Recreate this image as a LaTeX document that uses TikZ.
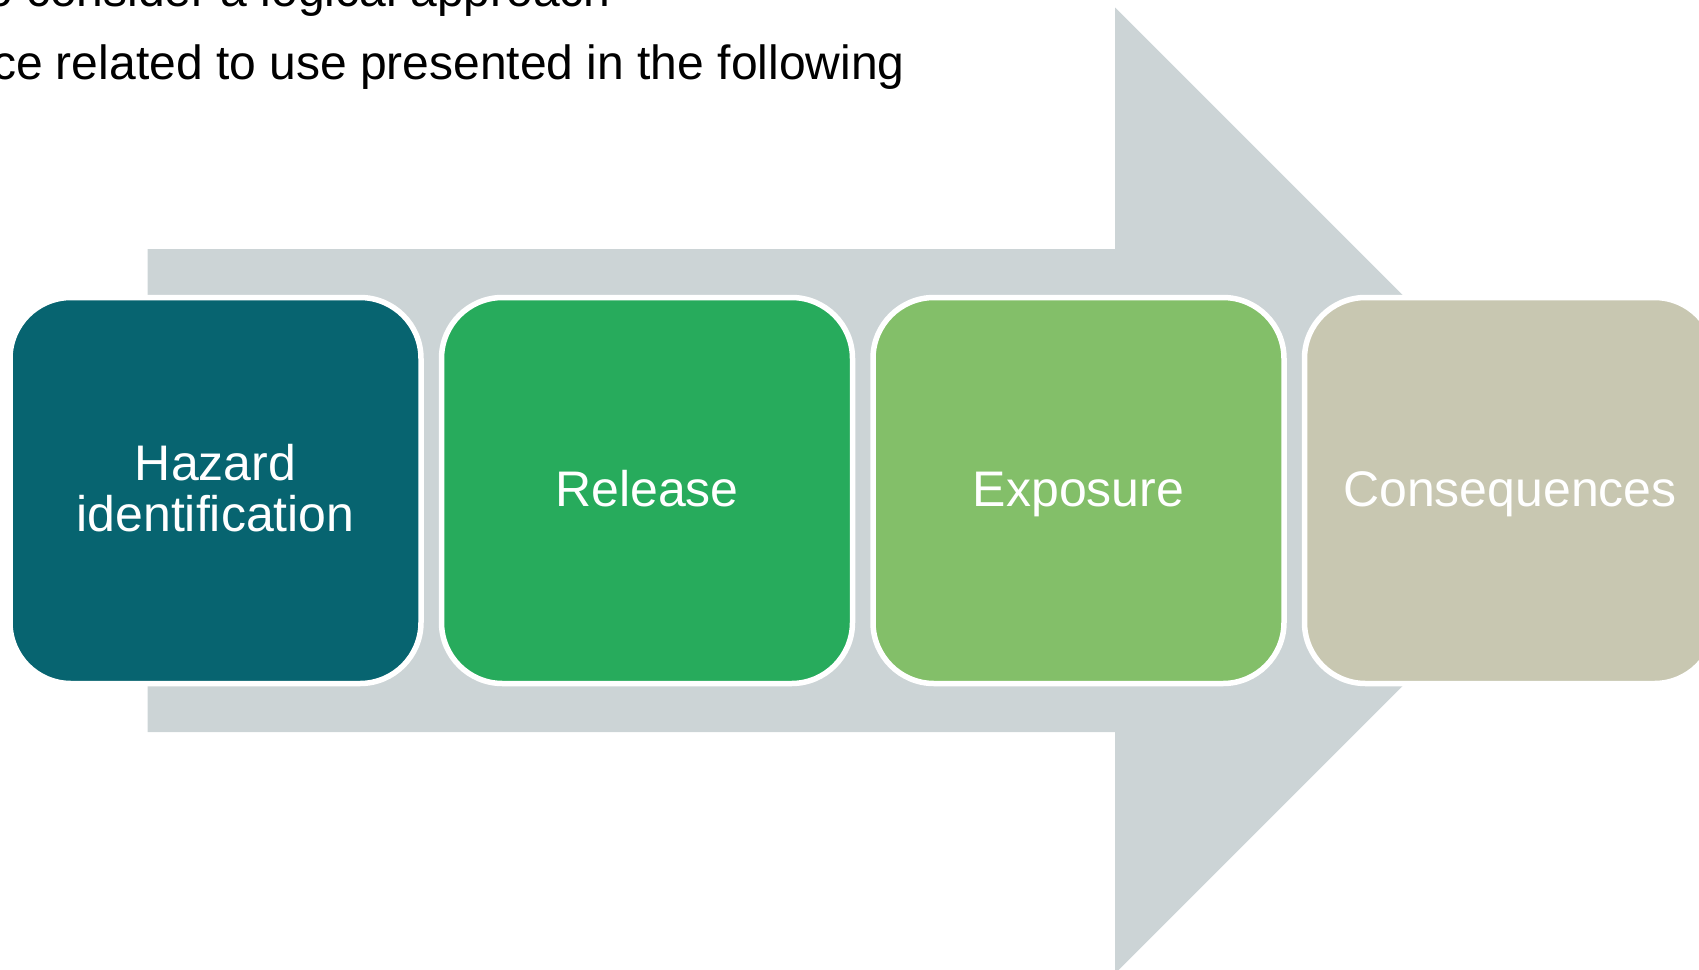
\documentclass[tikz,border=0pt]{standalone}
\usepackage{fontspec}
\setmainfont{Liberation Sans}
\definecolor{arrowgrey}{HTML}{CCD4D6}
\definecolor{cteal}{HTML}{076470}
\definecolor{cgreen}{HTML}{27AB5C}
\definecolor{clight}{HTML}{83BF69}
\definecolor{ckhaki}{HTML}{C8C7B1}
\tikzset{
  stage/.style={draw=white, line width=2.75pt, rounded corners=30.5pt,
    minimum width=205.5pt, minimum height=193pt, inner sep=0pt,
    text=white, align=center, text height=16pt, text depth=0pt,
    font=\fontsize{25}{25.5}\selectfont},
  twoline/.style={text height=41pt},
  bodytext/.style={anchor=base east, inner sep=0pt, text=black,
    font=\fontsize{24}{28}\selectfont}
}
\begin{document}
\begin{tikzpicture}[x=0.5pt,y=-0.5pt]
\useasboundingbox (0,0) rectangle (1699,970);
\clip (0,0) rectangle (1699,970);
% big background arrow
\fill[arrowgrey] (147.7,249) -- (1115,249) -- (1115,7.5) -- (1598,490.5)
  -- (1115,973.5) -- (1115,732) -- (147.7,732) -- cycle;
% top text (partly cut off)
\node[bodytext] (line1) at (611,6) {to consider a logical approach};
\node[bodytext] (line2) at (905,79) {ce related to use presented in the following};
% stages
\node[stage, twoline, fill=cteal]  (hazard) at (215.5,490.5) {Hazard\\identification};
\node[stage, fill=cgreen] (release) at (647,490.5) {Release};
\node[stage, fill=clight] (exposure) at (1078.5,490.5) {Exposure};
\node[stage, fill=ckhaki] (conseq) at (1510,490.5) {Consequences};
\end{tikzpicture}
\end{document}
